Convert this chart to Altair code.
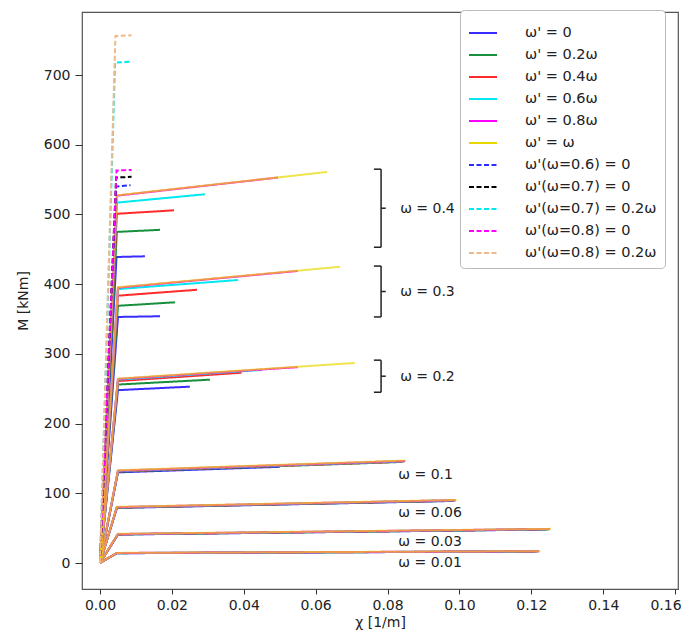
import altair as alt
import pandas as pd

# ---------------- data ----------------
series_names = ["ω' = 0", "ω' = 0.2ω", "ω' = 0.4ω", "ω' = 0.6ω", "ω' = 0.8ω", "ω' = ω",
                "ω'(ω=0.6) = 0", "ω'(ω=0.7) = 0", "ω'(ω=0.7) = 0.2ω",
                "ω'(ω=0.8) = 0", "ω'(ω=0.8) = 0.2ω"]
series_colors = ["#3a2cff", "#16903c", "#ff2a2a", "#00e8f0", "#ff00ff", "#e8d800",
                 "#2a2aff", "#000000", "#00e8f0", "#ff00ff", "#f0b98a"]
series_dash = [[1, 0]] * 6 + [[5, 2.5]] * 5

groups = ["0.01", "0.03", "0.06", "0.1", "0.2", "0.3", "0.4"]

chi_yield = {
    "0.01": [0.0047, 0.0047, 0.0047, 0.0047, 0.0047, 0.0047],
    "0.03": [0.0050, 0.0050, 0.0050, 0.0050, 0.0050, 0.0050],
    "0.06": [0.0047, 0.0047, 0.0047, 0.0047, 0.0047, 0.0047],
    "0.1": [0.0050, 0.0050, 0.0050, 0.0050, 0.0050, 0.0050],
    "0.2": [0.0050, 0.0050, 0.0050, 0.0050, 0.0050, 0.0050],
    "0.3": [0.0050, 0.0050, 0.0050, 0.0050, 0.0050, 0.0050],
    "0.4": [0.0046, 0.0047, 0.0047, 0.0047, 0.0047, 0.0047],
}
M_yield = {
    "0.01": [14.0, 14.1, 14.2, 14.3, 14.4, 14.5],
    "0.03": [40.8, 41.0, 41.2, 41.4, 41.6, 41.8],
    "0.06": [79.0, 79.3, 79.6, 79.9, 80.2, 80.5],
    "0.1": [130.0, 131.0, 131.5, 132.0, 132.5, 133.0],
    "0.2": [248, 256, 261, 263, 264, 264.5],
    "0.3": [353, 369, 383.5, 393, 395, 395.5],
    "0.4": [439, 475, 501, 517, 527, 527.5],
}
chi_ult = {
    "0.01": [0.1210, 0.1215, 0.1220, 0.1220, 0.1222, 0.1225],
    "0.03": [0.1240, 0.1245, 0.1250, 0.1250, 0.1252, 0.1255],
    "0.06": [0.0980, 0.0985, 0.0988, 0.0988, 0.0990, 0.0992],
    "0.1": [0.0500, 0.0840, 0.0845, 0.0848, 0.0849, 0.0850],
    "0.2": [0.0250, 0.0306, 0.0394, 0.0450, 0.0550, 0.0709],
    "0.3": [0.0167, 0.0209, 0.0270, 0.0384, 0.0550, 0.0668],
    "0.4": [0.0125, 0.0167, 0.0206, 0.0292, 0.0495, 0.0632],
}
M_ult = {
    "0.01": [16.5, 16.6, 16.7, 16.8, 16.9, 17.0],
    "0.03": [48.0, 48.2, 48.4, 48.6, 48.8, 49.0],
    "0.06": [89.0, 89.3, 89.6, 89.9, 90.2, 90.5],
    "0.1": [138, 145, 145.5, 146, 146.5, 147],
    "0.2": [253, 263, 273, 277, 281, 287],
    "0.3": [354, 374, 392, 406, 419, 425],
    "0.4": [440, 478, 506, 529, 553, 561],
}

# brittle (over-reinforced) sections, dashed
dashed_chi_yield = [0.0045, 0.0045, 0.0042, 0.0046, 0.0043]
dashed_M_yield = [540, 553, 718, 563, 756]
dashed_chi_ult = [0.0085, 0.0088, 0.0083, 0.0088, 0.0088]
dashed_M_ult = [542, 554, 719, 564, 757]

# annotations
omega_labels = ["ω = 0.4", "ω = 0.3", "ω = 0.2", "ω = 0.1", "ω = 0.06", "ω = 0.03", "ω = 0.01"]
label_chi = [0.0835, 0.0835, 0.0835, 0.0830, 0.0830, 0.0830, 0.0830]
label_M = [508, 389, 267, 126, 72, 30, 0]

bracket_top = [565, 426, 291]
bracket_bottom = [453, 353, 245]
bracket_chi = 0.0782
bracket_cap = 0.0020
bracket_tick = 0.0013

x_ticks = [0.0, 0.02, 0.04, 0.06, 0.08, 0.10, 0.12, 0.14, 0.16]
y_ticks = [0, 100, 200, 300, 400, 500, 600, 700]

# ---------------- build tables ----------------
rows = []
for si in range(6):
    for g in groups:
        cid = f"{g}-{si}"
        pts = [(0.0, 0.0), (chi_yield[g][si], M_yield[g][si]), (chi_ult[g][si], M_ult[g][si])]
        for k, (c, m) in enumerate(pts):
            rows.append({"curve": cid, "series": series_names[si], "k": k, "chi": c, "M": m})
for di in range(5):
    cid = f"d-{di}"
    pts = [(0.0, 0.0), (dashed_chi_yield[di], dashed_M_yield[di]),
           (dashed_chi_ult[di], dashed_M_ult[di])]
    for k, (c, m) in enumerate(pts):
        rows.append({"curve": cid, "series": series_names[6 + di], "k": k, "chi": c, "M": m})
lines_df = pd.DataFrame(rows)

labels_df = pd.DataFrame({"label": omega_labels, "chi": label_chi, "M": label_M})

seg = []
for t, b in zip(bracket_top, bracket_bottom):
    mid = (t + b) / 2
    seg.append({"x": bracket_chi, "x2": bracket_chi, "y": t, "y2": b})
    seg.append({"x": bracket_chi - bracket_cap, "x2": bracket_chi, "y": t, "y2": t})
    seg.append({"x": bracket_chi - bracket_cap, "x2": bracket_chi, "y": b, "y2": b})
    seg.append({"x": bracket_chi, "x2": bracket_chi + bracket_tick, "y": mid, "y2": mid})
bracket_df = pd.DataFrame(seg)

# ---------------- chart ----------------
FONT = "DejaVu Sans"
xscale = alt.Scale(domain=[-0.005, 0.1608], nice=False, zero=False)
yscale = alt.Scale(domain=[-37.3, 790.5], nice=False, zero=False)

legend = alt.Legend(title=None, orient="none", legendX=378, legendY=-2,
                    symbolType="stroke", symbolSize=784, symbolStrokeWidth=2,
                    labelFontSize=14.5, labelFont=FONT, labelColor="#222",
                    padding=8, rowPadding=-5.5, fillColor="white",
                    strokeColor="#bbbbbb", cornerRadius=4, labelLimit=300,
                    labelOffset=27)

lines = alt.Chart(lines_df).mark_line(strokeWidth=2, clip=True).encode(
    x=alt.X("chi:Q", scale=xscale,
            axis=alt.Axis(title="χ [1/m]", values=x_ticks, format=".2f", grid=False,
                          domain=False, tickSize=5, tickColor="#333", labelPadding=4,
                          labelFontSize=14, labelFont=FONT, labelColor="#222",
                          labelFlush=5, labelFlushOffset=6,
                          titleFontSize=14, titleFont=FONT, titleFontWeight="normal",
                          titleColor="#222", titlePadding=3)),
    y=alt.Y("M:Q", scale=yscale,
            axis=alt.Axis(title="M [kNm]", values=y_ticks, grid=False, domain=False,
                          tickSize=7, tickColor="#333", labelPadding=5,
                          labelFontSize=14, labelFont=FONT, labelColor="#222",
                          titleFontSize=14, titleFont=FONT, titleFontWeight="normal",
                          titleColor="#222", titlePadding=13)),
    color=alt.Color("series:N", scale=alt.Scale(domain=series_names, range=series_colors),
                    legend=legend),
    strokeDash=alt.StrokeDash("series:N",
                              scale=alt.Scale(domain=series_names, range=series_dash),
                              legend=legend),
    opacity=alt.condition(alt.datum.series == "ω' = ω", alt.value(0.7), alt.value(1.0)),
    detail="curve:N",
    order="k:Q",
)

texts = alt.Chart(labels_df).mark_text(align="left", baseline="middle", fontSize=14,
                                       font=FONT, color="#222").encode(
    x=alt.X("chi:Q", scale=xscale), y=alt.Y("M:Q", scale=yscale), text="label:N")

brackets = alt.Chart(bracket_df).mark_rule(color="#222", strokeWidth=1.5).encode(
    x=alt.X("x:Q", scale=xscale), x2="x2:Q",
    y=alt.Y("y:Q", scale=yscale), y2="y2:Q")

chart = alt.layer(lines, brackets, texts).properties(
    width=596, height=577,
    autosize=alt.AutoSizeParams(type="none"),
    padding={"left": 74, "top": 4, "right": 6, "bottom": 44},
    background="white",
).configure_view(stroke="#555", strokeWidth=1.2)

chart.save("out.html", embed_options={"renderer": "svg", "actions": False})
